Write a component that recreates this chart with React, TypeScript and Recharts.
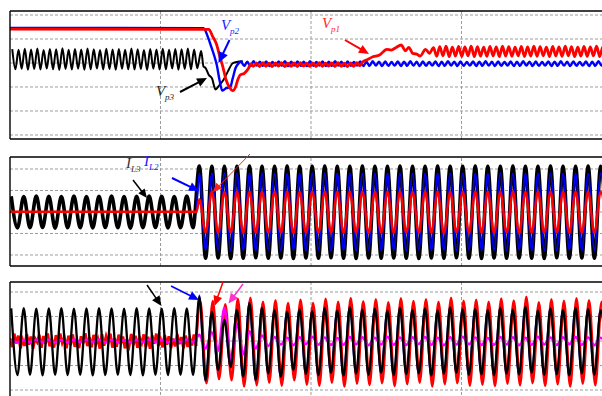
import React from "react";
import { LineChart, Line, XAxis, YAxis, ReferenceLine } from "recharts";

// ---------- time grids (divisions of the time axis; 4 divisions across) ----------
const GRID_T0 = 0.008; // first current/voltage extremum, panels 2 & 3
const HALF_CYCLE = 1 / 24; // half of a 50 Hz cycle
const RIPPLE_STEP = 1 / 48; // half of a 100 Hz ripple cycle

// ---------- panel 1 : DC voltages Vp1 (red), Vp2 (blue), Vp3 (black) ----------
const vp3Ripple = [
  3.58, 2.74, 3.55, 2.76, 3.59, 2.72, 3.56, 2.75, 3.6, 2.73,
  3.54, 2.77, 3.58, 2.74, 3.57, 2.71, 3.61, 2.75, 3.55, 2.73,
  3.58, 2.76, 3.56, 2.72, 3.6, 2.74, 3.57, 2.77, 3.54, 2.73,
  3.59, 2.75, 3.56, 2.72, 3.58, 2.76, 3.55, 2.74, 3.6, 2.73,
  3.57, 2.75, 3.54, 2.71, 3.58, 2.76, 3.56, 2.73, 3.59, 2.74,
  3.55, 2.77, 3.58, 2.72, 3.57, 2.75, 3.6, 2.74, 3.56, 2.78,
];
const vp3Transition = [
  [1.27, 3.5], [1.286, 2.85], [1.299, 2.8], [1.321, 2.5], [1.343, 2.35], [1.365, 1.9],
  [1.392, 2.08], [1.419, 2.3], [1.447, 2.64], [1.48, 2.99], [1.513, 3.05], [1.547, 3.07],
];
const vp2Transition = [
  [0, 4.46], [1.286, 4.45], [1.314, 4.1], [1.337, 3.68], [1.359, 3.26], [1.374, 2.92],
  [1.392, 2.29], [1.41, 1.85], [1.436, 1.95], [1.463, 1.99], [1.48, 2.36], [1.498, 2.78], [1.52, 2.99],
];
const vp2Ripple = [
  3.06, 2.88, 3.05, 2.87, 3.07, 2.89, 3.05, 2.88, 3.06, 2.87,
  3.04, 2.89, 3.06, 2.88, 3.07, 2.87, 3.05, 2.89, 3.06, 2.88,
  3.05, 2.87, 3.07, 2.88, 3.04, 2.89, 3.06, 2.87, 3.05, 2.88,
  3.07, 2.89, 3.05, 2.87, 3.06, 2.88, 3.04, 2.89, 3.06, 2.87,
  3.05, 2.88, 3.07, 2.89, 3.05, 2.87, 3.06, 2.88, 3.04, 2.89,
  3.06, 2.87, 3.05, 2.88, 3.07, 2.89, 3.05, 2.87, 3.06, 2.88,
  3.04, 2.89, 3.06, 2.87, 3.05, 2.88, 3.07, 2.89, 3.05, 2.87,
  3.06, 2.88, 3.04, 2.89, 3.06, 2.87, 3.05, 2.88, 3.07, 2.89,
  3.05, 2.87, 3.06, 2.88, 3.04, 2.89, 3.06, 2.87, 3.05, 2.88,
  3.07, 2.89, 3.05, 2.87, 3.06, 2.88, 3.04, 2.89, 3.06, 2.87,
  3.05, 2.88, 3.07, 2.89, 3.05, 2.87, 3.06, 2.88, 3.04, 2.89,
  3.06, 2.87, 3.05, 2.88, 3.07, 2.89, 3.05, 2.87, 3.06,
];
const vp1Transition = [
  [0, 4.41], [1.321, 4.4], [1.347, 4.1], [1.37, 3.82], [1.392, 3.33], [1.414, 2.85],
  [1.436, 2.29], [1.458, 1.99], [1.48, 1.85], [1.498, 1.99], [1.513, 2.29], [1.529, 2.5],
  [1.557, 2.57], [1.585, 2.78], [1.6, 2.96],
];
const vp1RippleA = [
  2.86, 3.0, 2.85, 3.01, 2.86, 2.99, 2.85, 3.0, 2.87, 3.01,
  2.85, 2.99, 2.86, 3.0, 2.85, 3.01, 2.87, 2.99, 2.86, 3.0,
  2.85, 3.01, 2.86, 2.99, 2.87, 3.0, 2.85, 3.01, 2.86, 2.99,
  2.85, 3.0, 2.86, 3.01, 2.88,
];
const vp1Rise = [
  [2.344, 3.05], [2.377, 3.15], [2.411, 3.26], [2.455, 3.33], [2.504, 3.57], [2.533, 3.54],
  [2.566, 3.65], [2.599, 3.75], [2.628, 3.51], [2.65, 3.65], [2.676, 3.4], [2.703, 3.37],
  [2.726, 3.29], [2.761, 3.57], [2.787, 3.4], [2.814, 3.64],
];
const vp1RippleB = [
  3.28, 3.68, 3.3, 3.7, 3.27, 3.66, 3.29, 3.69, 3.28, 3.67,
  3.3, 3.7, 3.27, 3.68, 3.29, 3.66, 3.28, 3.69, 3.3, 3.67,
  3.27, 3.7, 3.29, 3.68, 3.28, 3.66, 3.3, 3.69, 3.27, 3.67,
  3.29, 3.7, 3.28, 3.68, 3.3, 3.66, 3.27, 3.69, 3.29, 3.67,
  3.28, 3.7, 3.3, 3.68, 3.27, 3.66, 3.29, 3.69, 3.28, 3.67,
  3.3, 3.7, 3.27, 3.68, 3.29, 3.66,
];

// ---------- panel 2 : currents IL3 (black), IL2 (blue), IL1 (red) ----------
const iL3 = [
  0.73, -0.74, 0.72, -0.73, 0.74, -0.72, 0.73, -0.75, 0.72, -0.73,
  0.74, -0.73, 0.72, -0.74, 0.73, -0.72, 0.74, -0.73, 0.72, -0.75,
  0.73, -0.73, 0.74, -0.72, 0.73, -0.74, 0.72, -0.73, 0.74, -0.73,
  2.14, -2.15, 2.12, -2.14, 2.13, -2.16, 2.12, -2.15, 2.14, -2.13,
  2.12, -2.15, 2.13, -2.14, 2.14, -2.16, 2.12, -2.14, 2.13, -2.15,
  2.14, -2.13, 2.12, -2.15, 2.13, -2.16, 2.14, -2.14, 2.12, -2.15,
  2.13, -2.14, 2.14, -2.15, 2.12, -2.16, 2.13, -2.14, 2.14, -2.15,
  2.12, -2.13, 2.13, -2.15, 2.14, -2.16, 2.12, -2.14, 2.13, -2.15,
  2.14, -2.14, 2.12, -2.15, 2.13, -2.16, 2.14, -2.13, 2.12, -2.15,
  2.13, -2.14, 2.14, -2.15, 2.12, -2.15,
];
const iL2Pre = [[0, 0], [1.236, 0]];
const iL2Post = [
  1.8, -1.78, 1.79, -1.77, 1.81, -1.79, 1.8, -1.78, 1.79, -1.8,
  1.81, -1.77, 1.8, -1.79, 1.78, -1.78, 1.8, -1.8, 1.81, -1.77,
  1.79, -1.79, 1.8, -1.78, 1.81, -1.8, 1.79, -1.77, 1.8, -1.79,
  1.78, -1.78, 1.81, -1.8, 1.8, -1.77, 1.79, -1.79, 1.8, -1.78,
  1.81, -1.8, 1.79, -1.77, 1.8, -1.79, 1.78, -1.78, 1.81, -1.8,
  1.8, -1.77, 1.79, -1.79, 1.8, -1.78, 1.81, -1.8, 1.79, -1.77,
  1.8, -1.79, 1.78, -1.78, 1.81, -1.8,
];
const iL1Pre = [[0, 0.01], [1.24, 0.01]];
const iL1Post = [
  0.6, -0.95, 0.95, -0.98, 0.94, -0.97, 0.96, -0.98, 0.95, -0.96,
  0.94, -0.98, 0.96, -0.97, 0.95, -0.99, 0.94, -0.97, 0.96, -0.98,
  0.95, -0.96, 0.94, -0.98, 0.96, -0.97, 0.95, -0.99, 0.94, -0.97,
  0.96, -0.98, 0.95, -0.96, 0.94, -0.98, 0.96, -0.97, 0.95, -0.99,
  0.94, -0.97, 0.96, -0.98, 0.95, -0.96, 0.94, -0.98, 0.96, -0.97,
  0.95, -0.99, 0.94, -0.97, 0.96, -0.98, 0.95, -0.96, 0.94, -0.98,
  0.96, -0.97, 0.95, -0.99, 0.94, -0.97,
];

// ---------- panel 3 : black, blue, red, magenta ----------
const p3Black = [
  1.33, -1.39, 1.34, -1.38, 1.32, -1.4, 1.33, -1.38, 1.34, -1.39,
  1.32, -1.38, 1.33, -1.4, 1.34, -1.39, 1.33, -1.38, 1.32, -1.39,
  1.34, -1.4, 1.33, -1.38, 1.32, -1.39, 1.34, -1.38, 1.33, -1.39,
  1.8, -1.6, 1.2, -1.18, 0.86, -1.05, 1.27, -1.46, 1.54, -1.59,
  1.35, -1.32, 1.27, -1.46, 1.2, -1.18,
  1.3, -1.35, 1.22, -1.4, 1.35, -1.3, 1.25, -1.42, 1.38, -1.33,
  1.28, -1.38, 1.32, -1.3, 1.24, -1.4, 1.36, -1.35, 1.27, -1.32,
  1.33, -1.41, 1.25, -1.34, 1.37, -1.3, 1.29, -1.38, 1.31, -1.36,
  1.26, -1.4, 1.35, -1.33, 1.28, -1.37, 1.4, -1.3, 1.24, -1.39,
  1.33, -1.35, 1.27, -1.41, 1.36, -1.32, 1.3, -1.38, 1.25, -1.36,
];
const p3BluePre = [[0, 0], [1.236, 0]];
const p3BluePost = [
  1.86, -1.66, 1.26, -1.25, 0.94, -1.12, 1.33, -1.53, 1.6, -1.66,
  1.41, -1.38, 1.33, -1.52, 1.27, -1.24,
  1.36, -1.41, 1.28, -1.46, 1.41, -1.36, 1.31, -1.48, 1.44, -1.39,
  1.34, -1.44, 1.38, -1.36, 1.3, -1.46, 1.42, -1.41, 1.33, -1.38,
  1.39, -1.47, 1.31, -1.4, 1.43, -1.36, 1.35, -1.44, 1.37, -1.42,
  1.32, -1.46, 1.41, -1.39, 1.34, -1.43, 1.46, -1.36, 1.3, -1.45,
  1.39, -1.41, 1.33, -1.47, 1.42, -1.38, 1.36, -1.44, 1.31, -1.42,
];
const p3RedNoiseStep = 1 / 72;
const p3RedPre = [
  0.12, -0.25, 0.3, -0.1, 0.22, -0.3, 0.05, -0.2, 0.28, -0.15,
  0.18, -0.32, 0.1, -0.05, 0.26, -0.28, 0.2, -0.12, 0.31, -0.22,
  0.08, -0.27, 0.24, -0.18, 0.3, -0.08, 0.14, -0.3, 0.22, -0.16,
  0.27, -0.24, 0.06, -0.29, 0.19, -0.1, 0.32, -0.21, 0.15, -0.26,
  0.25, -0.14, 0.09, -0.31, 0.28, -0.19, 0.2, -0.06, 0.3, -0.27,
  0.11, -0.23, 0.26, -0.12, 0.18, -0.3, 0.04, -0.2, 0.29, -0.17,
  0.21, -0.28, 0.13, -0.09, 0.27, -0.25, 0.17, -0.32, 0.23, -0.11,
  0.3, -0.2, 0.07, -0.26, 0.24, -0.15, 0.19, -0.29, 0.1, -0.22,
  0.28, -0.13, 0.16, -0.3, 0.22, -0.24, 0.12, -0.18, 0.26, -0.2,
];
const p3RedPost = [
  1.62, -1.72, 1.63, -1.55, 1.5, -1.6, 1.72, -1.85, 1.76, -1.8,
  1.6, -1.7, 1.66, -1.82, 1.55, -1.6,
  1.68, -1.78, 1.55, -1.82, 1.72, -1.7, 1.6, -1.86, 1.75, -1.74,
  1.62, -1.8, 1.7, -1.72, 1.58, -1.84, 1.74, -1.76, 1.63, -1.7,
  1.7, -1.85, 1.6, -1.76, 1.76, -1.72, 1.64, -1.82, 1.68, -1.78,
  1.6, -1.84, 1.73, -1.74, 1.65, -1.8, 1.8, -1.72, 1.58, -1.83,
  1.7, -1.76, 1.64, -1.86, 1.74, -1.74, 1.66, -1.8, 1.6, -1.78,
];
const p3Magenta = [
  0.05, -0.06, 0.04, -0.05, 0.06, -0.05, 0.05, -0.06, 0.04, -0.05,
  0.06, -0.05, 0.05, -0.04, 0.06, -0.06, 0.05, -0.05, 0.04, -0.06,
  0.05, -0.05, 0.06, -0.04, 0.05, -0.06, 0.04, -0.05, 0.06, -0.05,
  0.25, -0.3, 0.35, -0.4, 1.35, -0.8, 0.7, -0.55, 0.4, -0.3, 0.22, -0.2,
  0.16, -0.14, 0.13, -0.17, 0.15, -0.12, 0.17, -0.15, 0.14, -0.16,
  0.12, -0.15, 0.16, -0.13, 0.15, -0.17, 0.13, -0.14, 0.17, -0.15,
  0.14, -0.16, 0.15, -0.12, 0.16, -0.15, 0.13, -0.17, 0.15, -0.14,
  0.17, -0.13, 0.14, -0.16, 0.12, -0.15, 0.16, -0.14, 0.15, -0.17,
  0.13, -0.15, 0.17, -0.14, 0.14, -0.16, 0.15, -0.13, 0.16, -0.15,
  0.14, -0.17, 0.13, -0.15,
];

// ---------- helpers ----------
type Pt = { t: number; v: number };
const sampled = (t0: number, dt: number, vals: number[]): Pt[] => vals.map((v, i) => ({ t: t0 + i * dt, v }));
const pairs = (p: number[][]): Pt[] => p.map(([t, v]) => ({ t, v }));
const POST_T0 = GRID_T0 + 30 * HALF_CYCLE;

const s1Black = [...sampled(0.015, RIPPLE_STEP, vp3Ripple), ...pairs(vp3Transition)];
const s1Blue = [...pairs(vp2Transition), ...sampled(1.535, RIPPLE_STEP, vp2Ripple)];
const s1Red = [
  ...pairs(vp1Transition),
  ...sampled(1.617, RIPPLE_STEP, vp1RippleA),
  ...pairs(vp1Rise),
  ...sampled(2.835, RIPPLE_STEP, vp1RippleB),
];
const s2Black = sampled(GRID_T0, HALF_CYCLE, iL3);
const s2Blue = [...pairs(iL2Pre), ...sampled(POST_T0, HALF_CYCLE, iL2Post)];
const s2Red = [...pairs(iL1Pre), ...sampled(POST_T0, HALF_CYCLE, iL1Post)];
const s3Black = sampled(GRID_T0, HALF_CYCLE, p3Black);
const s3Blue = [...pairs(p3BluePre), ...sampled(POST_T0, HALF_CYCLE, p3BluePost)];
const s3RedPre = sampled(0, p3RedNoiseStep, p3RedPre);
const s3RedPost = [{ t: 1.236, v: -0.2 }, ...sampled(POST_T0 + 0.006, HALF_CYCLE, p3RedPost)];
const s3Magenta = sampled(GRID_T0, HALF_CYCLE, p3Magenta);

const X_DOMAIN: [number, number] = [0, 4];
const X_GRID = [1, 2, 3];
const CHART_W = 618;

type Series = { data: Pt[]; color: string; width: number; type?: "monotone" | "linear" };

function Panel({ top, height, margin, domain, yTicks, series }: {
  top: number; height: number; margin: { top: number; bottom: number };
  domain: [number, number]; yTicks: number[]; series: Series[];
}) {
  const frame = { stroke: "#000", strokeWidth: 1.4 };
  const grid = { stroke: "#9c9c9c", strokeDasharray: "3 2", strokeWidth: 1 };
  return (
    <div style={{ position: "absolute", left: 0, top, width: CHART_W, height }}>
      <LineChart width={CHART_W} height={height} margin={{ top: margin.top, bottom: margin.bottom, left: 10, right: 6 }}>
        <XAxis type="number" dataKey="t" domain={X_DOMAIN} allowDataOverflow hide />
        <YAxis type="number" domain={domain} allowDataOverflow hide />
        {yTicks.map((y) => <ReferenceLine key={`gy${y}`} y={y} {...grid} />)}
        {X_GRID.map((x) => <ReferenceLine key={`gx${x}`} x={x} {...grid} />)}
        {series.map((s, i) => (
          <Line key={i} data={s.data} dataKey="v" type={s.type ?? "monotone"} stroke={s.color}
            strokeWidth={s.width} dot={false} activeDot={false} isAnimationActive={false} />
        ))}
        <ReferenceLine y={domain[1]} {...frame} />
        <ReferenceLine y={domain[0]} {...frame} />
        <ReferenceLine x={X_DOMAIN[0]} {...frame} />
      </LineChart>
    </div>
  );
}

function Arrow({ x1, y1, x2, y2, color, w = 1.5, head = 10, hw = 8 }: {
  x1: number; y1: number; x2: number; y2: number; color: string; w?: number; head?: number; hw?: number;
}) {
  const dx = x2 - x1, dy = y2 - y1;
  const L = Math.hypot(dx, dy);
  const ux = dx / L, uy = dy / L;
  const bx = x2 - ux * head, by = y2 - uy * head;
  const px = (-uy * hw) / 2, py = (ux * hw) / 2;
  return (
    <g>
      <line x1={x1} y1={y1} x2={bx + ux} y2={by + uy} stroke={color} strokeWidth={w} />
      <polygon points={`${x2},${y2} ${bx + px},${by + py} ${bx - px},${by - py}`} fill={color} />
    </g>
  );
}

const serif = "'Liberation Serif', 'Times New Roman', serif";

function Label({ x, y, main, sub, color }: { x: number; y: number; main: string; sub: string; color: string }) {
  return (
    <g fill={color} fontFamily={serif} fontStyle="italic">
      <text x={x} y={y} fontSize={15}>{main}</text>
      <text x={x + (main === "I" ? 5 : 9)} y={y + 4} fontSize={9}>{sub}</text>
    </g>
  );
}

export default function App() {
  return (
    <div style={{ position: "fixed", left: 0, top: 0, width: 602, height: 396, overflow: "hidden", background: "#fff" }}>
      <Panel top={0} height={145} margin={{ top: 11, bottom: 6 }} domain={[-0.167, 5.167]} yTicks={[0, 1, 2, 3, 4, 5]}
        series={[
          { data: s1Black, color: "#000", width: 2 },
          { data: s1Blue, color: "#0000ff", width: 2.4 },
          { data: s1Red, color: "#ff0000", width: 2.8 },
        ]} />
      <Panel top={146} height={126} margin={{ top: 11, bottom: 6 }} domain={[-2.512, 2.558]} yTicks={[-2, -1, 0, 1, 2]}
        series={[
          { data: s2Black, color: "#000", width: 3.6 },
          { data: s2Blue, color: "#0000ff", width: 1.8 },
          { data: s2Red, color: "#ff0000", width: 2.4 },
        ]} />
      <Panel top={272} height={134} margin={{ top: 10, bottom: 6 }} domain={[-2.408, 2.408]} yTicks={[-2, -1, 0, 1, 2]}
        series={[
          { data: s3Blue, color: "#0000ff", width: 2 },
          { data: s3RedPre, color: "#ff0000", width: 2.8, type: "linear" },
          { data: s3RedPost, color: "#ff0000", width: 2.6 },
          { data: s3Magenta, color: "#ff00ff", width: 2.6 },
          { data: s3Black, color: "#000", width: 2.3 },
        ]} />
      <svg width={602} height={396} style={{ position: "absolute", left: 0, top: 0, pointerEvents: "none" }}>
        <Label x={221} y={30} main="V" sub="p2" color="#1a1aff" />
        <Label x={156} y={96} main="V" sub="p3" color="#222" />
        <Label x={322} y={28} main="V" sub="p1" color="#ff2a2a" />
        <Label x={126} y={168} main="I" sub="L3" color="#333" />
        <Label x={144} y={166} main="I" sub="L2" color="#1a1aff" />
        <Arrow x1={229.5} y1={40} x2={218.5} y2={63} color="#0000ff" w={2} head={11} hw={10} />
        <Arrow x1={180} y1={92} x2={207} y2={78} color="#000" w={2} head={10} hw={9} />
        <Arrow x1={345} y1={40} x2={369} y2={54} color="#ff0000" w={2} head={10} hw={9} />
        <Arrow x1={133} y1={180} x2={147} y2={198} color="#000" w={1.5} head={9} hw={8} />
        <Arrow x1={172} y1={178} x2={199} y2={191} color="#0000ff" w={2} head={10} hw={9} />
        <Arrow x1={250} y1={154} x2={213} y2={192} color="#ff2020" w={1} head={9} hw={8} />
        <Arrow x1={147} y1={285} x2={161.5} y2={306} color="#000" w={1.5} head={10} hw={9} />
        <Arrow x1={171} y1={286} x2={199} y2={300} color="#0000ff" w={1.5} head={10} hw={9} />
        <Arrow x1={223} y1={282} x2={214.5} y2={306} color="#ff0000" w={1.5} head={10} hw={9} />
        <Arrow x1={243} y1={284} x2={228.5} y2={303.5} color="#ff33cc" w={1.5} head={10} hw={9} />
      </svg>
    </div>
  );
}
